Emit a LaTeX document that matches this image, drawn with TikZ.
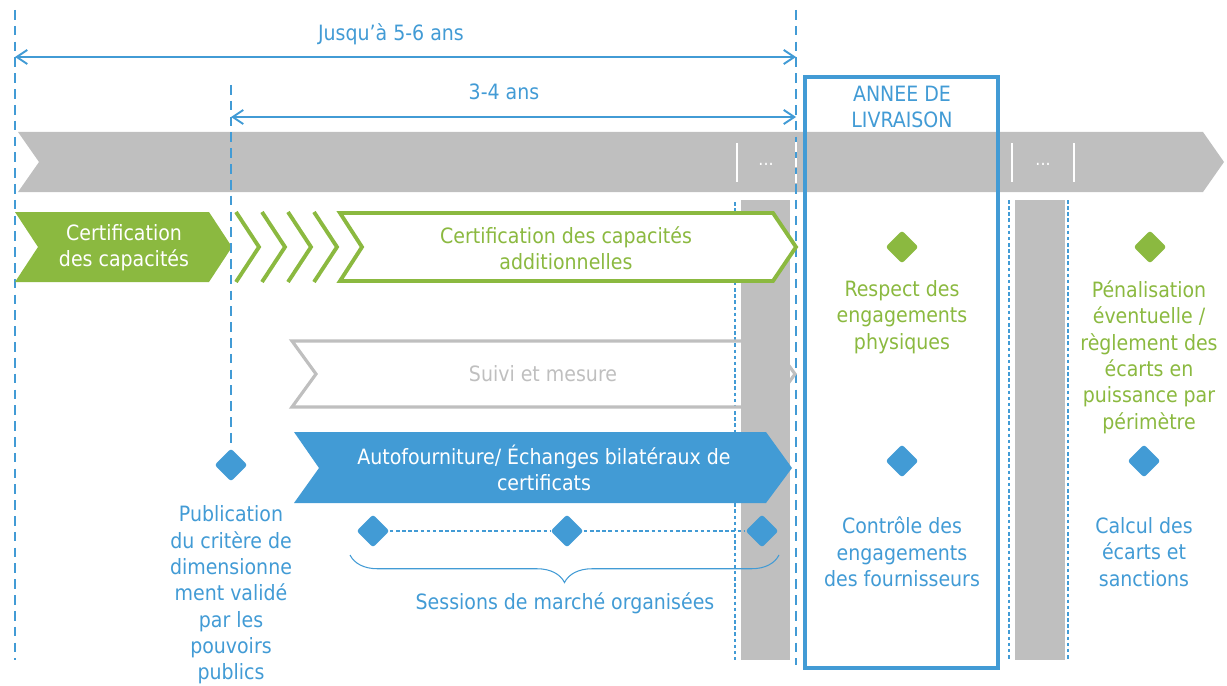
\documentclass[tikz,border=0pt]{standalone}
\usepackage{fontspec}
\setmainfont{DejaVu Sans Condensed}
\usetikzlibrary{arrows.meta,decorations.pathreplacing,shapes.geometric,calc}
\definecolor{bleu}{RGB}{66,155,213}
\definecolor{vert}{RGB}{139,185,64}
\definecolor{gris}{RGB}{191,191,191}
\tikzstyle{limite} = [draw=bleu, line width=1.3pt, dash pattern=on 5.5pt off 3.5pt]
\tikzstyle{pointille} = [draw=bleu, line width=0.6pt, dash pattern=on 2pt off 1.5pt]
\tikzstyle{duree} = [draw=bleu, line width=1.1pt, {Straight Barb[length=6pt,width=8pt]}-{Straight Barb[length=6pt,width=8pt]}]
\tikzstyle{jalon} = [diamond, minimum width=0.66cm, minimum height=0.66cm, inner sep=0pt, rounded corners=1.5pt]
\tikzstyle{txt} = [align=center, font=\fontsize{12}{15}\selectfont, inner sep=0pt]

\begin{document}
\begin{tikzpicture}[x=0.02cm,y=-0.02cm]
\useasboundingbox (0,0) rectangle (1227,686);
% bandeau
\fill[gris] (18,132) -- (1203,132) -- (1224,162) -- (1203,192) -- (18,192) -- (39,162) -- cycle;
\fill[gris] (741,200) rectangle (790,660);
\fill[gris] (1015,200) rectangle (1065,660);
\draw[white, line width=1pt] (737,143) -- (737,182);
\draw[white, line width=1pt] (1012,143) -- (1012,182);
\draw[white, line width=1pt] (1074,143) -- (1074,182);
\node[white, font=\fontsize{10}{12}\selectfont] (pp1) at (766,164) {...};
\node[white, font=\fontsize{10}{12}\selectfont] (pp2) at (1043,164) {...};
\draw[pointille] (735,202) -- (735,660);
\draw[pointille] (1009,200) -- (1009,660);
\draw[pointille] (1068,200) -- (1068,660);
% reperes
\coordinate (d0) at (15,10);
\coordinate (d0b) at (15,660);
\coordinate (d1) at (796,10);
\coordinate (d1b) at (796,665);
\coordinate (d2) at (231,85);
\draw[limite] (d0) -- (d0b);
\draw[limite] (d1) -- (d1b);
\draw[white, line width=1.3pt, dash pattern=on 5.5pt off 3.5pt] (796,142) -- (796,184);
\coordinate (j1) at (15,57);
\coordinate (j2) at (796,57);
\coordinate (k1) at (231,117);
\coordinate (k2) at (796,117);
\draw[duree] (j1) -- (j2);
\draw[duree] (k1) -- (k2);
\node[txt, text=bleu] (jusqua) at (391,34) {Jusqu’à 5-6 ans};
\node[txt, text=bleu] (ans) at (504,92) {3-4 ans};
% annee de livraison
\draw[bleu, line width=1.8pt] (805,77) rectangle (998,668);
\node[txt, text=bleu] (annee) at (902,107) {ANNEE DE\\LIVRAISON};
% chevrons
\fill[vert] (15,212) -- (209,212) -- (232,247) -- (209,282) -- (15,282) -- (38,247) -- cycle;
\foreach \x in {236,262,288,314}
    \draw[vert, line width=2.2pt] (\x,212) -- (\x+23,247) -- (\x,282);
\draw[vert, fill=white, line width=2.2pt] (340,213) -- (773,213) -- (796,247) -- (773,281) -- (340,281) -- (362,247) -- cycle;
\draw[gris, line width=1.8pt] (292,341) -- (771,341) -- (795,374) -- (771,407) -- (292,407) -- (316,374) -- cycle;
\fill[bleu] (294,432) -- (766,432) -- (792,468) -- (766,503) -- (294,503) -- (319,468) -- cycle;
\node[txt, text=white] (certif) at (124,248) {Certification\\des capacités};
\node[txt, text=vert] (certifadd) at (566,248) {Certification des capacités\\additionnelles};
\node[txt, text=gris] (suivi) at (543,374) {Suivi et mesure};
\node[txt, text=white] (auto) at (544,468) {Autofourniture/ Échanges bilatéraux de\\certificats};
% jalons
\node[jalon, fill=bleu] (pub) at (231,465) {};
\draw[limite] (d2) -- (pub.north);
\node[txt, text=bleu] (pubtxt) at (231,595) {Publication\\du critère de\\dimensionne\\ment validé\\par les\\pouvoirs\\publics};
\node[jalon, fill=bleu] (m1) at (373,531) {};
\node[jalon, fill=bleu] (m2) at (567,531) {};
\node[jalon, fill=bleu] (m3) at (762,531) {};
\draw[pointille] (m1) -- (m2) -- (m3);
\coordinate (s1) at (350,555);
\coordinate (s2) at (779,555);
\draw[bleu, line width=0.6pt, decorate, decoration={brace, mirror, amplitude=0.55cm}] (s1) -- (s2);
\node[txt, text=bleu] (sessions) at (565,603) {Sessions de marché organisées};
\node[jalon, fill=vert] (resp) at (902,247) {};
\node[jalon, fill=vert] (pena) at (1150,247) {};
\node[jalon, fill=bleu] (ctrl) at (902,461) {};
\node[jalon, fill=bleu] (calc) at (1144,461) {};
\node[txt, text=vert] (resptxt) at (902,317) {Respect des\\engagements\\physiques};
\node[txt, text=vert] (penatxt) at (1149,357) {Pénalisation\\éventuelle /\\règlement des\\écarts en\\puissance par\\périmètre};
\node[txt, text=bleu] (ctrltxt) at (902,552) {Contrôle des\\engagements\\des fournisseurs};
\node[txt, text=bleu] (calctxt) at (1144,552) {Calcul des\\écarts et\\sanctions};
\end{tikzpicture}
\end{document}
